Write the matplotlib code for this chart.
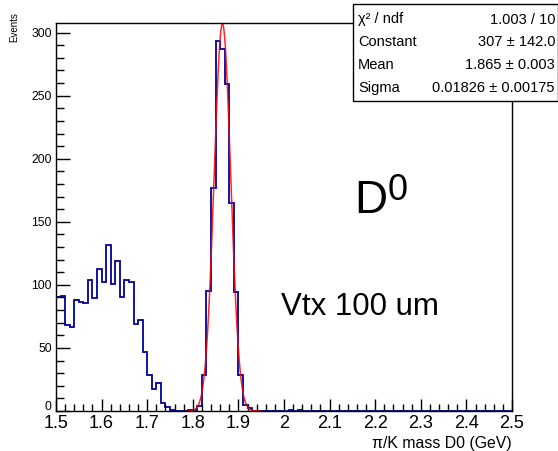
import numpy as np
import matplotlib
matplotlib.use("Agg")
import matplotlib.pyplot as plt
import matplotlib.transforms as mtransforms
from matplotlib.patches import Rectangle

plt.rcParams['font.family'] = ['Liberation Sans', 'DejaVu Sans']

# histogram: 100 bins of 0.01 GeV from 1.5 to 2.5
edges = np.round(np.linspace(1.5, 2.5, 101), 3)
counts = np.zeros(100)
# bins 1.50 .. 1.75
left_part = [90.5, 91, 68.5, 67, 88, 86.5, 86, 103.5, 89.5, 112.5,
             102.5, 131.5, 101, 119, 90, 103.5, 102.5, 69, 72, 47,
             28.5, 17.5, 22, 6.5, 3.5, 1]
# bins 1.79 .. 1.92
peak_part = [1, 1, 4, 28.5, 95, 177, 293, 287, 259, 165, 94, 28.5, 5, 2]
counts[0:26] = left_part
counts[29:43] = peak_part
counts[51] = 1   # 2.01
counts[53] = 1   # 2.03

# gaussian fit result
fit_const = 307.0
fit_mean = 1.865
fit_sigma = 0.01826
fit_lo, fit_hi = 1.79, 1.95

stats_rows = [("χ² / ndf", "1.003 / 10"),
              ("Constant", "307 ± 142.0"),
              ("Mean", "1.865 ± 0.003"),
              ("Sigma", "0.01826 ± 0.00175")]

xticks = [1.5, 1.6, 1.7, 1.8, 1.9, 2.0, 2.1, 2.2, 2.3, 2.4, 2.5]
xticklabels = ["1.5", "1.6", "1.7", "1.8", "1.9", "2", "2.1", "2.2", "2.3", "2.4", "2.5"]
yticks = [0, 50, 100, 150, 200, 250, 300]

W, H = 558, 451
fig = plt.figure(figsize=(W / 100, H / 100), dpi=100)
ax = fig.add_axes([56 / W, 1 - 411 / H, 456 / W, 388 / H])

ax.stairs(counts, edges, color='#000099', lw=1.3, baseline=None)

xf = np.linspace(fit_lo, fit_hi, 400)
yf = fit_const * np.exp(-0.5 * ((xf - fit_mean) / fit_sigma) ** 2)
ax.plot(xf, yf, color='#ff0000', lw=1.1, alpha=0.85)

ax.set_xlim(1.5, 2.5)
ax.set_ylim(0, 293 * 1.05)
ax.set_xticks(xticks)
ax.set_xticklabels(xticklabels, fontsize=13)
ax.set_xticks(np.arange(1.5, 2.501, 0.02), minor=True)
ax.set_yticks(yticks)
ax.set_yticklabels([str(v) for v in yticks], fontsize=8.7)
ax.set_yticks(np.arange(0, 301, 10), minor=True)
ax.tick_params(axis='x', which='major', direction='in', length=9, width=1, pad=3)
ax.tick_params(axis='x', which='minor', direction='in', length=5, width=1)
ax.tick_params(axis='y', which='major', direction='in', length=10, width=1, pad=3)
ax.tick_params(axis='y', which='minor', direction='in', length=5.5, width=1)
for s in ax.spines.values():
    s.set_linewidth(1)

# the "0" on the y axis sits a little higher, as in ROOT
zero_lab = ax.get_yticklabels()[0]
zero_lab.set_transform(zero_lab.get_transform() +
                       mtransforms.ScaledTranslation(0, 4 / 72, fig.dpi_scale_trans))

fig.text(512 / W, 1 - 448 / H, "π/K mass D0 (GeV)", ha='right', va='baseline', fontsize=11.4)
fig.text(19 / W, 1 - 12 / H, "Events", rotation=90, ha='right', va='top', fontsize=7)

# stats box
box = Rectangle((352.5 / W, 1 - 101 / H), (W - 352.5) / W, 97 / H, transform=fig.transFigure,
                facecolor='white', edgecolor='black', lw=1, zorder=10)
fig.patches.append(box)
for i, (name, val) in enumerate(stats_rows):
    yy = 1 - (19.5 + 22.7 * i) / H
    fig.text(358 / W, yy, name, ha='left', va='center', fontsize=10.5, zorder=11)
    fig.text(555 / W, yy, val, ha='right', va='center', fontsize=10.5, zorder=11)

# annotations
fig.text(354 / W, 1 - 213 / H, "D", ha='left', va='baseline', fontsize=33)
fig.text(388 / W, 1 - 200 / H, "0", ha='left', va='baseline', fontsize=26)
fig.text(281 / W, 1 - 315 / H, "Vtx 100 um", ha='left', va='baseline', fontsize=22.5)

fig.savefig("out.png", dpi=100)
